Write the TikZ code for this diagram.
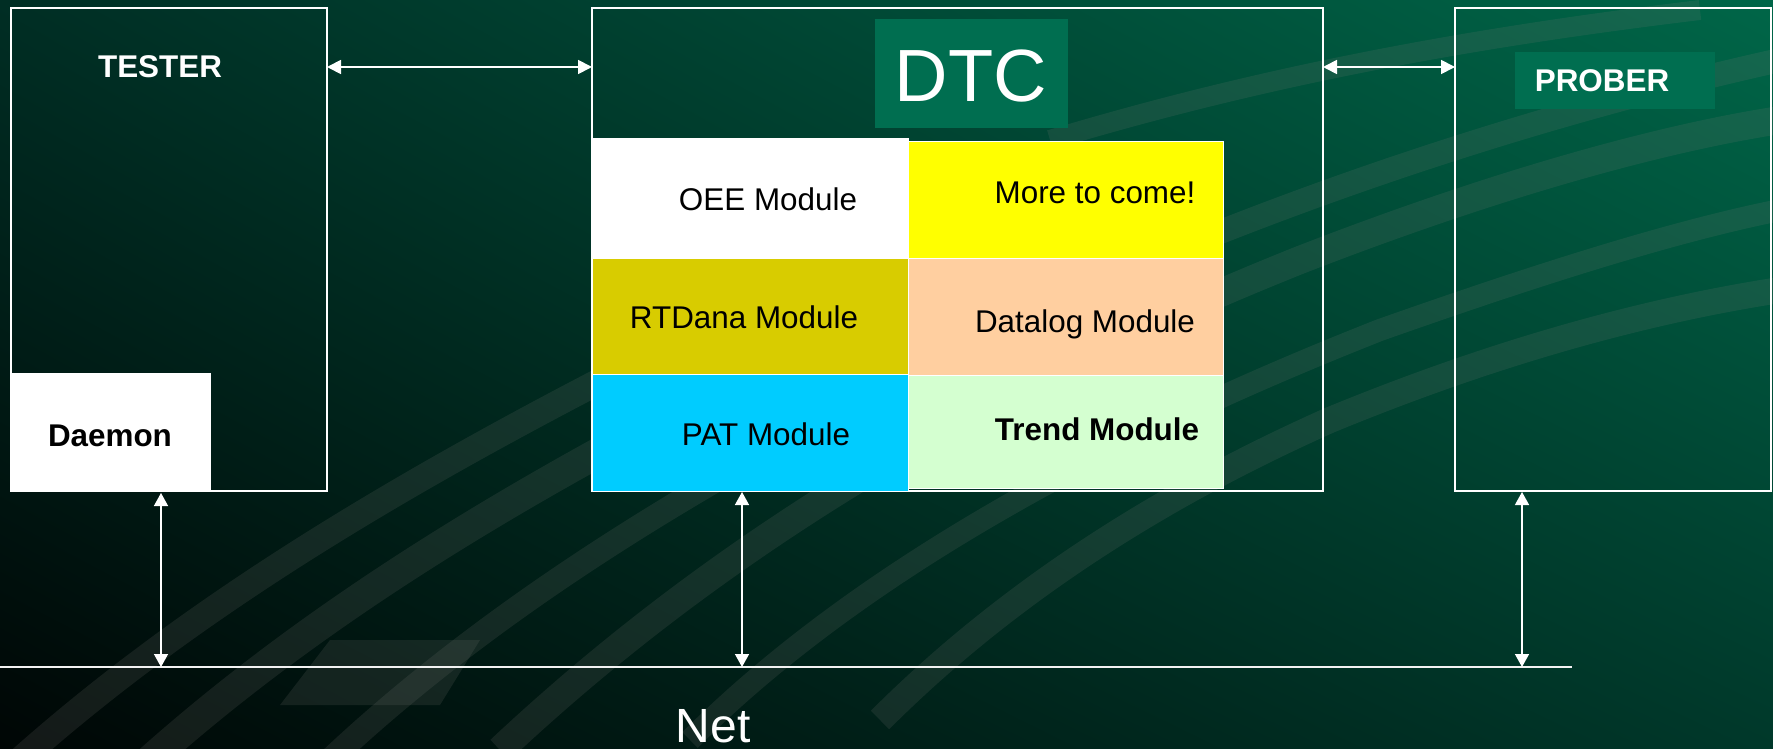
\documentclass[tikz,border=0pt]{standalone}
\usepackage{fontspec}
\setmainfont{Liberation Sans}
\usetikzlibrary{arrows.meta,calc,shadings}
\definecolor{bgUL}{RGB}{0,46,36}
\definecolor{bgUR}{RGB}{0,102,72}
\definecolor{bgLL}{RGB}{0,6,5}
\definecolor{bgLR}{RGB}{0,56,42}
\definecolor{labelteal}{RGB}{0,110,80}
\definecolor{rtdcol}{RGB}{216,204,0}
\definecolor{datacol}{RGB}{255,207,160}
\definecolor{patcol}{RGB}{0,204,255}
\definecolor{trendcol}{RGB}{212,255,208}
\definecolor{morecol}{RGB}{255,255,0}
\definecolor{stripe}{RGB}{125,125,120}
\begin{document}
\begin{tikzpicture}[x=1pt,y=-1pt]
\tikzset{
  frame/.style={draw=white, line width=1.6pt, inner sep=0pt, outer sep=0pt, anchor=north west},
  cell/.style={draw=white, line width=1pt, inner sep=0pt, outer sep=0pt, anchor=north west},
  tagbox/.style={fill=labelteal, inner sep=0pt, outer sep=0pt, anchor=north west},
  txt/.style={font=\fontsize{31.4}{36}\selectfont, inner sep=0pt, anchor=base},
  btxt/.style={font=\bfseries\fontsize{31.4}{36}\selectfont, inner sep=0pt, anchor=base},
  harrow/.style={white, line width=1.8pt, {Triangle[length=14pt,width=14pt]}-{Triangle[length=14pt,width=14pt]}},
  varrow/.style={white, line width=1.4pt, {Triangle[length=13pt,width=14pt]}-{Triangle[length=13pt,width=14pt]}},
  netline/.style={draw=white!90!gray, line width=2.2pt},
  swoosh/.style={draw=stripe, draw opacity=0.16}
}
\useasboundingbox (0,0) rectangle (1773,749);
% background
\shade[upper left=bgUL, upper right=bgUR, lower left=bgLL, lower right=bgLR] (0,0) rectangle (1773,749);
% faint swooshes
\draw[swoosh, line width=26pt] (20,760) .. controls (200,600) and (420,470) .. (700,330);
\draw[swoosh, line width=30pt] (150,760) .. controls (330,600) and (560,460) .. (900,300);
\draw[swoosh, line width=24pt] (330,760) .. controls (500,600) and (760,430) .. (1200,240) .. controls (1400,160) and (1600,100) .. (1780,60);
\draw[swoosh, line width=28pt] (500,750) .. controls (660,600) and (900,420) .. (1300,260) .. controls (1480,190) and (1650,140) .. (1780,120);
\draw[swoosh, line width=22pt] (690,740) .. controls (830,600) and (1050,460) .. (1380,330) .. controls (1550,270) and (1680,230) .. (1780,210);
\draw[swoosh, line width=26pt] (880,720) .. controls (1000,600) and (1150,500) .. (1330,420) .. controls (1500,350) and (1650,310) .. (1780,290);
\draw[swoosh, line width=20pt] (1050,140) .. controls (1250,80) and (1450,40) .. (1700,10);
\fill[stripe, fill opacity=0.16] (330,640) -- (480,640) -- (440,705) -- (280,705) -- cycle;
% main boxes
\node[frame, minimum width=316pt, minimum height=483pt] (tester) at (11,8) {};
\node[frame, minimum width=731pt, minimum height=483pt] (dtc) at (592,8) {};
\node[frame, minimum width=316pt, minimum height=483pt] (prober) at (1455,8) {};
\node[cell, draw=none, fill=white, minimum width=200pt, minimum height=119pt] (daemon) at (11,373) {};
% labels boxes
\node[tagbox, minimum width=193pt, minimum height=109pt] (dtctag) at (875,19) {};
\node[tagbox, minimum width=200pt, minimum height=57pt] (probertag) at (1515,52) {};
% modules
\node[cell, fill=white, minimum width=316pt, minimum height=119pt] (oee) at (592,139) {};
\node[cell, fill=morecol, minimum width=315pt, minimum height=116pt] (more) at (908,142) {};
\node[cell, fill=rtdcol, minimum width=316pt, minimum height=116pt] (rtd) at (592,258) {};
\node[cell, fill=datacol, minimum width=315pt, minimum height=117pt] (datalog) at (908,258) {};
\node[cell, fill=patcol, minimum width=316pt, minimum height=117pt] (pat) at (592,374) {};
\node[cell, fill=trendcol, minimum width=315pt, minimum height=113pt] (trend) at (908,375) {};
% texts
\node[btxt, text=white] (ttester) at (160,78) {TESTER};
\node[btxt, text=black] (tdaemon) at (110,446) {Daemon};
\node[btxt, text=white] (tprober) at (1602,92) {PROBER};
\node[inner sep=0pt, anchor=base, text=white, font=\fontsize{74}{80}\selectfont] (tdtc) at (971,102) {DTC};
\node[txt] (toee) at (768,210) {OEE Module};
\node[txt] (tmore) at (1095,204) {More to come!};
\node[txt] (trtd) at (744,328) {RTDana Module};
\node[txt] (tdata) at (1085,332) {Datalog Module};
\node[txt] (tpat) at (766,445) {PAT Module};
\node[btxt] (ttrend) at (1097,440) {Trend Module};
\node[inner sep=0pt, anchor=base, text=white, font=\fontsize{48}{54}\selectfont] (tnet) at (713,742) {Net};
% net line
\coordinate (netL) at (0,667);
\coordinate (netR) at (1572,667);
\draw[netline] (netL) -- (netR);
% horizontal connectors
\draw[harrow] ([yshift=-59pt]tester.north east) -- ([yshift=-59pt]dtc.north west);
\draw[harrow] ([yshift=-59pt]dtc.north east) -- ([yshift=-59pt]prober.north west);
% vertical connectors
\draw[varrow] ([xshift=50pt,yshift=-1pt]daemon.south) -- ([xshift=50pt]daemon.south |- netL);
\draw[varrow] ([xshift=-8pt,yshift=-1pt]pat.south) -- ([xshift=-8pt]pat.south |- netL);
\draw[varrow] ([xshift=-91pt,yshift=-1pt]prober.south) -- ([xshift=-91pt]prober.south |- netL);
\end{tikzpicture}
\end{document}
